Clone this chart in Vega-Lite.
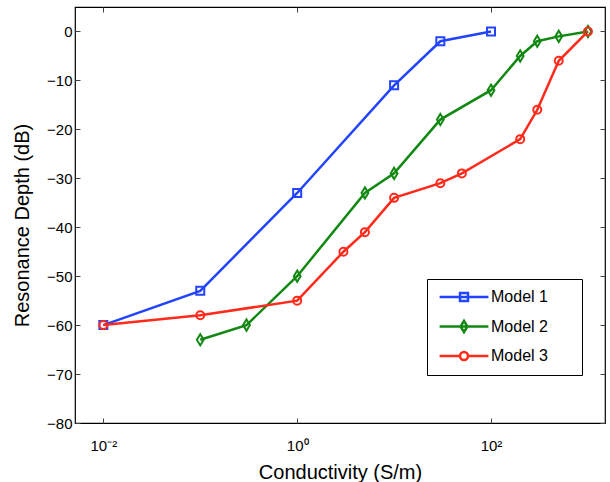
{
  "$schema": "https://vega.github.io/schema/vega-lite/v6.json",
  "width": 530,
  "height": 416,
  "autosize": "none",
  "padding": {"left": 75, "top": 7, "right": 5, "bottom": 59},
  "background": "white",
  "config": {
    "view": {"stroke": "black", "strokeWidth": 1.2},
    "font": "Liberation Sans",
    "axis": {
      "domain": false,
      "grid": false,
      "labelFont": "Liberation Sans",
      "labelFontSize": 15,
      "labelColor": "black",
      "tickColor": "#444",
      "tickSize": -5,
      "titleFont": "Liberation Sans",
      "titleFontSize": 20,
      "titleFontWeight": "normal",
      "titleColor": "black"
    }
  },
  "data": {
    "values": [
      {"Model": "Model 1", "x": 0.01, "y": -60},
      {"Model": "Model 1", "x": 0.1, "y": -53},
      {"Model": "Model 1", "x": 1, "y": -33},
      {"Model": "Model 1", "x": 10, "y": -11},
      {"Model": "Model 1", "x": 30, "y": -2},
      {"Model": "Model 1", "x": 100, "y": 0},
      {"Model": "Model 2", "x": 0.1, "y": -63},
      {"Model": "Model 2", "x": 0.3, "y": -60},
      {"Model": "Model 2", "x": 1, "y": -50},
      {"Model": "Model 2", "x": 5, "y": -33},
      {"Model": "Model 2", "x": 10, "y": -29},
      {"Model": "Model 2", "x": 30, "y": -18},
      {"Model": "Model 2", "x": 100, "y": -12},
      {"Model": "Model 2", "x": 200, "y": -5},
      {"Model": "Model 2", "x": 300, "y": -2},
      {"Model": "Model 2", "x": 500, "y": -1},
      {"Model": "Model 2", "x": 1000, "y": 0},
      {"Model": "Model 3", "x": 0.01, "y": -60},
      {"Model": "Model 3", "x": 0.1, "y": -58},
      {"Model": "Model 3", "x": 1, "y": -55},
      {"Model": "Model 3", "x": 3, "y": -45},
      {"Model": "Model 3", "x": 5, "y": -41},
      {"Model": "Model 3", "x": 10, "y": -34},
      {"Model": "Model 3", "x": 30, "y": -31},
      {"Model": "Model 3", "x": 50, "y": -29},
      {"Model": "Model 3", "x": 200, "y": -22},
      {"Model": "Model 3", "x": 300, "y": -16},
      {"Model": "Model 3", "x": 500, "y": -6},
      {"Model": "Model 3", "x": 1000, "y": 0}
    ]
  },
  "layer": [
    {
      "mark": {"type": "line", "strokeWidth": 2.5},
      "encoding": {
        "x": {
          "field": "x", "type": "quantitative",
          "scale": {"type": "log", "domain": [0.0051, 1500], "nice": false},
          "axis": {
            "values": [0.01, 1, 100],
            "labelExpr": "datum.value == 0.01 ? '10⁻²' : datum.value == 1 ? '10⁰' : '10²'",
            "labelPadding": 20,
            "title": "Conductivity (S/m)",
            "titlePadding": 9
          }
        },
        "y": {
          "field": "y", "type": "quantitative",
          "scale": {"domain": [-80, 5], "nice": false, "zero": false},
          "axis": {
            "values": [-80, -70, -60, -50, -40, -30, -20, -10, 0],
            "labelPadding": 8,
            "title": "Resonance Depth (dB)",
            "titleX": -43,
            "titleY": 218
          }
        },
        "color": {
          "field": "Model", "type": "nominal",
          "scale": {"domain": ["Model 1", "Model 2", "Model 3"], "range": ["#2244ff", "#118811", "#ff2a1a"]},
          "legend": null
        }
      }
    },
    {
      "mark": {"type": "point", "filled": false, "strokeWidth": 2, "size": 64, "opacity": 1},
      "encoding": {
        "x": {"field": "x", "type": "quantitative", "axis": null},
        "y": {"field": "y", "type": "quantitative", "axis": null},
        "color": {
          "field": "Model", "type": "nominal",
          "scale": {"domain": ["Model 1", "Model 2", "Model 3"], "range": ["#2244ff", "#118811", "#ff2a1a"]},
          "legend": null
        },
        "shape": {
          "field": "Model", "type": "nominal",
          "scale": {"domain": ["Model 1", "Model 2", "Model 3"], "range": ["square", "M0,-1.4L0.85,0L0,1.4L-0.85,0Z", "circle"]},
          "legend": null
        }
      }
    },
    {
      "mark": {"type": "point", "filled": false, "strokeWidth": 2, "size": 64, "opacity": 0},
      "encoding": {
        "x": {"field": "x", "type": "quantitative", "axis": null},
        "y": {"field": "y", "type": "quantitative", "axis": null},
        "color": {
          "field": "Model", "type": "nominal",
          "scale": {"domain": ["Model 1", "Model 2", "Model 3"], "range": ["#2244ff", "#118811", "#ff2a1a"]},
          "legend": {
            "orient": "none", "legendX": 352, "legendY": 272,
            "title": null,
            "strokeColor": "black", "fillColor": "white",
            "padding": 10,
            "symbolOffset": 19,
            "labelOffset": 19,
            "labelFontSize": 16,
            "labelFont": "Liberation Sans",
            "labelColor": "black",
            "rowPadding": 9.5,
            "labelExpr": "datum.label + '\u2002\u2009\u2800'",
            "symbolStrokeWidth": 2.5,
            "symbolSize": 64,
            "encode": {"symbols": {"update": {"opacity": {"value": 1}, "fillOpacity": {"value": 0}, "strokeOpacity": {"value": 1}}}}
          }
        },
        "shape": {
          "field": "Model", "type": "nominal",
          "scale": {"domain": ["Model 1", "Model 2", "Model 3"], "range": ["M-6.1,0H6.1M-1,-1H1V1H-1Z", "M-6.1,0H6.1M0,-1.4L0.85,0L0,1.4L-0.85,0Z", "M-6.1,0H-1M1,0H6.1M1,0A1,1 0 1,1 -1,0A1,1 0 1,1 1,0"]},
          "legend": {
            "orient": "none", "legendX": 352, "legendY": 272,
            "title": null,
            "strokeColor": "black", "fillColor": "white",
            "padding": 10,
            "symbolOffset": 19,
            "labelOffset": 19,
            "labelFontSize": 16,
            "labelFont": "Liberation Sans",
            "labelColor": "black",
            "rowPadding": 9.5,
            "labelExpr": "datum.label + '\u2002\u2009\u2800'",
            "symbolStrokeWidth": 2.5,
            "symbolSize": 64,
            "encode": {"symbols": {"update": {"opacity": {"value": 1}, "fillOpacity": {"value": 0}, "strokeOpacity": {"value": 1}}}}
          }
        }
      }
    },
    {
      "mark": {"type": "point", "opacity": 0},
      "encoding": {
        "x": {
          "field": "x", "type": "quantitative",
          "axis": {"orient": "top", "values": [0.01, 1, 100], "labels": false, "title": null}
        },
        "y": {
          "field": "y", "type": "quantitative",
          "axis": {"orient": "right", "values": [-80, -70, -60, -50, -40, -30, -20, -10, 0], "labels": false, "title": null}
        }
      }
    }
  ],
  "resolve": {
    "scale": {"color": "independent", "shape": "independent"},
    "axis": {"x": "independent", "y": "independent"}
  }
}
